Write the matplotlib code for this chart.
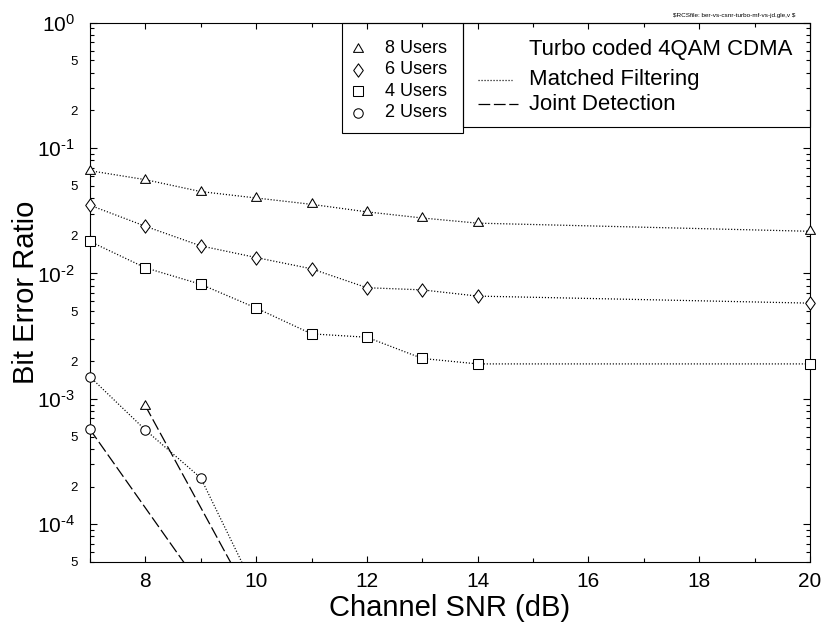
import numpy as np
import matplotlib
matplotlib.use("Agg")
import matplotlib.pyplot as plt
from matplotlib.patches import Rectangle
from matplotlib.lines import Line2D
from matplotlib.path import Path
from matplotlib.ticker import LogLocator, MultipleLocator, FuncFormatter

plt.rcParams['font.family'] = ['Liberation Sans', 'DejaVu Sans']
plt.rcParams['mathtext.fontset'] = 'custom'
plt.rcParams['mathtext.rm'] = 'Liberation Sans'
plt.rcParams['mathtext.it'] = 'Liberation Sans:italic'
plt.rcParams['mathtext.default'] = 'regular'

# ---- BER data -------------------------------------------------------------
snr_mf = [7, 8, 9, 10, 11, 12, 13, 14, 20]
ber_mf_8 = [0.066, 0.056, 0.045, 0.040, 0.0356, 0.031, 0.0277, 0.0252, 0.0217]
ber_mf_6 = [0.035, 0.0238, 0.0166, 0.0134, 0.0109, 0.0077, 0.0074, 0.0066, 0.0058]
ber_mf_4 = [0.018, 0.0111, 0.0082, 0.0053, 0.0033, 0.0031, 0.0021, 0.0019, 0.0019]

snr_mf_2 = [7, 8, 9, 10]
ber_mf_2 = [1.5e-3, 5.65e-4, 2.34e-4, 2.9e-5]

snr_jd_8 = [8, 10]
ber_jd_8 = [8.8e-4, 2.1e-5]

snr_jd_2 = [7, 9]
ber_jd_2 = [5.7e-4, 3.2e-5]

user_labels = ["8 Users", "6 Users", "4 Users", "2 Users"]
scheme_title = "Turbo coded 4QAM CDMA"
scheme_labels = ["Matched Filtering", "Joint Detection"]
rcs_tag = "$RCSfile: ber-vs-csnr-turbo-mf-vs-jd.gle,v $"

XMIN, XMAX = 7, 20
YMIN, YMAX = 5e-5, 1.0

# ---- styles ---------------------------------------------------------------
def closed_marker(verts):
    return Path(list(verts) + [verts[0]], closed=True)

TRI = closed_marker([(0, 1), (-0.866, -0.5), (0.866, -0.5)])
DIA = closed_marker([(0, 1), (0.72, 0), (0, -1), (-0.72, 0)])

MARKERS = {
    "8": dict(marker=TRI, markersize=8.3),
    "6": dict(marker=DIA, markersize=9.6),
    "4": dict(marker='s', markersize=7.0),
    "2": dict(marker='o', markersize=6.8),
}
MK_COMMON = dict(markerfacecolor='white', markeredgecolor='black',
                 markeredgewidth=0.75, linestyle='none')
DOT = (0.9, 1.5)
DASH = (9.4, 2.9)
LW = 0.9

W, H = 823, 627
AX_L, AX_R, AX_T, AX_B = 90, 810, 22.7, 562

fig = plt.figure(figsize=(W / 100, H / 100), dpi=100)
ax = fig.add_axes([AX_L / W, 1 - AX_B / H, (AX_R - AX_L) / W, (AX_B - AX_T) / H])
ax.set_yscale('log')
ax.set_xlim(XMIN, XMAX)
ax.set_ylim(YMIN, YMAX)


def draw_curve(x, y, dashes, key):
    x = np.asarray(x, float)
    y = np.asarray(y, float)
    ax.plot(x, y, color='black', lw=LW, dashes=dashes, zorder=2)
    m = (y >= YMIN) & (y <= YMAX)
    ax.plot(x[m], y[m], clip_on=False, zorder=4, **MARKERS[key], **MK_COMMON)


draw_curve(snr_mf, ber_mf_8, DOT, "8")
draw_curve(snr_mf, ber_mf_6, DOT, "6")
draw_curve(snr_mf, ber_mf_4, DOT, "4")
draw_curve(snr_mf_2, ber_mf_2, DOT, "2")
draw_curve(snr_jd_8, ber_jd_8, DASH, "8")
draw_curve(snr_jd_2, ber_jd_2, DASH, "2")

# ---- axes, ticks ----------------------------------------------------------
ax.xaxis.set_major_locator(MultipleLocator(2))
ax.xaxis.set_minor_locator(MultipleLocator(1))
ax.yaxis.set_major_locator(LogLocator(base=10, numticks=20))
ax.yaxis.set_minor_locator(LogLocator(base=10, subs=np.arange(2, 10), numticks=100))


def major_fmt(v, p):
    e = int(round(np.log10(v)))
    if e < 0:
        return r'$10^{\text{-}%d}$' % (-e)
    return r'$10^{%d}$' % e


def minor_fmt(v, p):
    mant = v / 10 ** np.floor(np.log10(v) + 1e-9)
    m = int(round(mant))
    return str(m) if m in (2, 5) else ''


ax.yaxis.set_major_formatter(FuncFormatter(major_fmt))
ax.yaxis.set_minor_formatter(FuncFormatter(minor_fmt))

ax.tick_params(which='both', direction='in', top=True, right=True, width=0.8)
ax.tick_params(axis='x', which='major', length=4, labelsize=15, pad=7)
ax.tick_params(axis='x', which='minor', length=3)
ax.tick_params(axis='y', which='major', length=5, labelsize=15, pad=11)
ax.tick_params(axis='y', which='minor', length=3, labelsize=9.5, pad=9)
for s in ax.spines.values():
    s.set_linewidth(0.8)

ax.set_xlabel("Channel SNR (dB)", fontsize=21)
ax.set_ylabel("Bit Error Ratio", fontsize=21)
ax.xaxis.set_label_coords(0.5, -0.06)
ax.yaxis.set_label_coords(-0.07, 0.5)


# ---- key boxes ------------------------------------------------------------
def fx(px):
    return px / W


def fy(py):
    return 1 - py / H


def box(x0, x1, y0, y1):
    fig.add_artist(Rectangle((fx(x0), fy(y1)), fx(x1) - fx(x0), fy(y0) - fy(y1),
                             transform=fig.transFigure, fill=False,
                             edgecolor='black', lw=0.8, zorder=5))


box(341.7, 462.7, AX_T, 132.7)
box(462.7, AX_R, AX_T, 126.7)

for i, (lab, key) in enumerate(zip(user_labels, ["8", "6", "4", "2"])):
    row_y = 48.5 + i * 21.4
    fig.add_artist(Line2D([fx(358.3)], [fy(row_y)], transform=fig.transFigure,
                          zorder=6, **MARKERS[key], **MK_COMMON))
    fig.text(fx(385), fy(row_y), lab, fontsize=13, ha='left', va='center')

fig.text(fx(529.3), fy(49.3), scheme_title, fontsize=15.9, ha='left', va='center')
for lab, dashes, row_y, x_end in zip(scheme_labels, [DOT, DASH], [79.8, 104.0], [511.7, 518.3]):
    fig.add_artist(Line2D([fx(478.3), fx(x_end)], [fy(row_y), fy(row_y)],
                          transform=fig.transFigure, color='black', lw=LW,
                          dashes=dashes, zorder=6))
    fig.text(fx(529.3), fy(row_y), lab, fontsize=15.9, ha='left', va='center')

fig.text(fx(795), fy(15), rcs_tag, fontsize=4.6, ha='right', va='center',
         parse_math=False)

fig.savefig("out.png", dpi=100)
